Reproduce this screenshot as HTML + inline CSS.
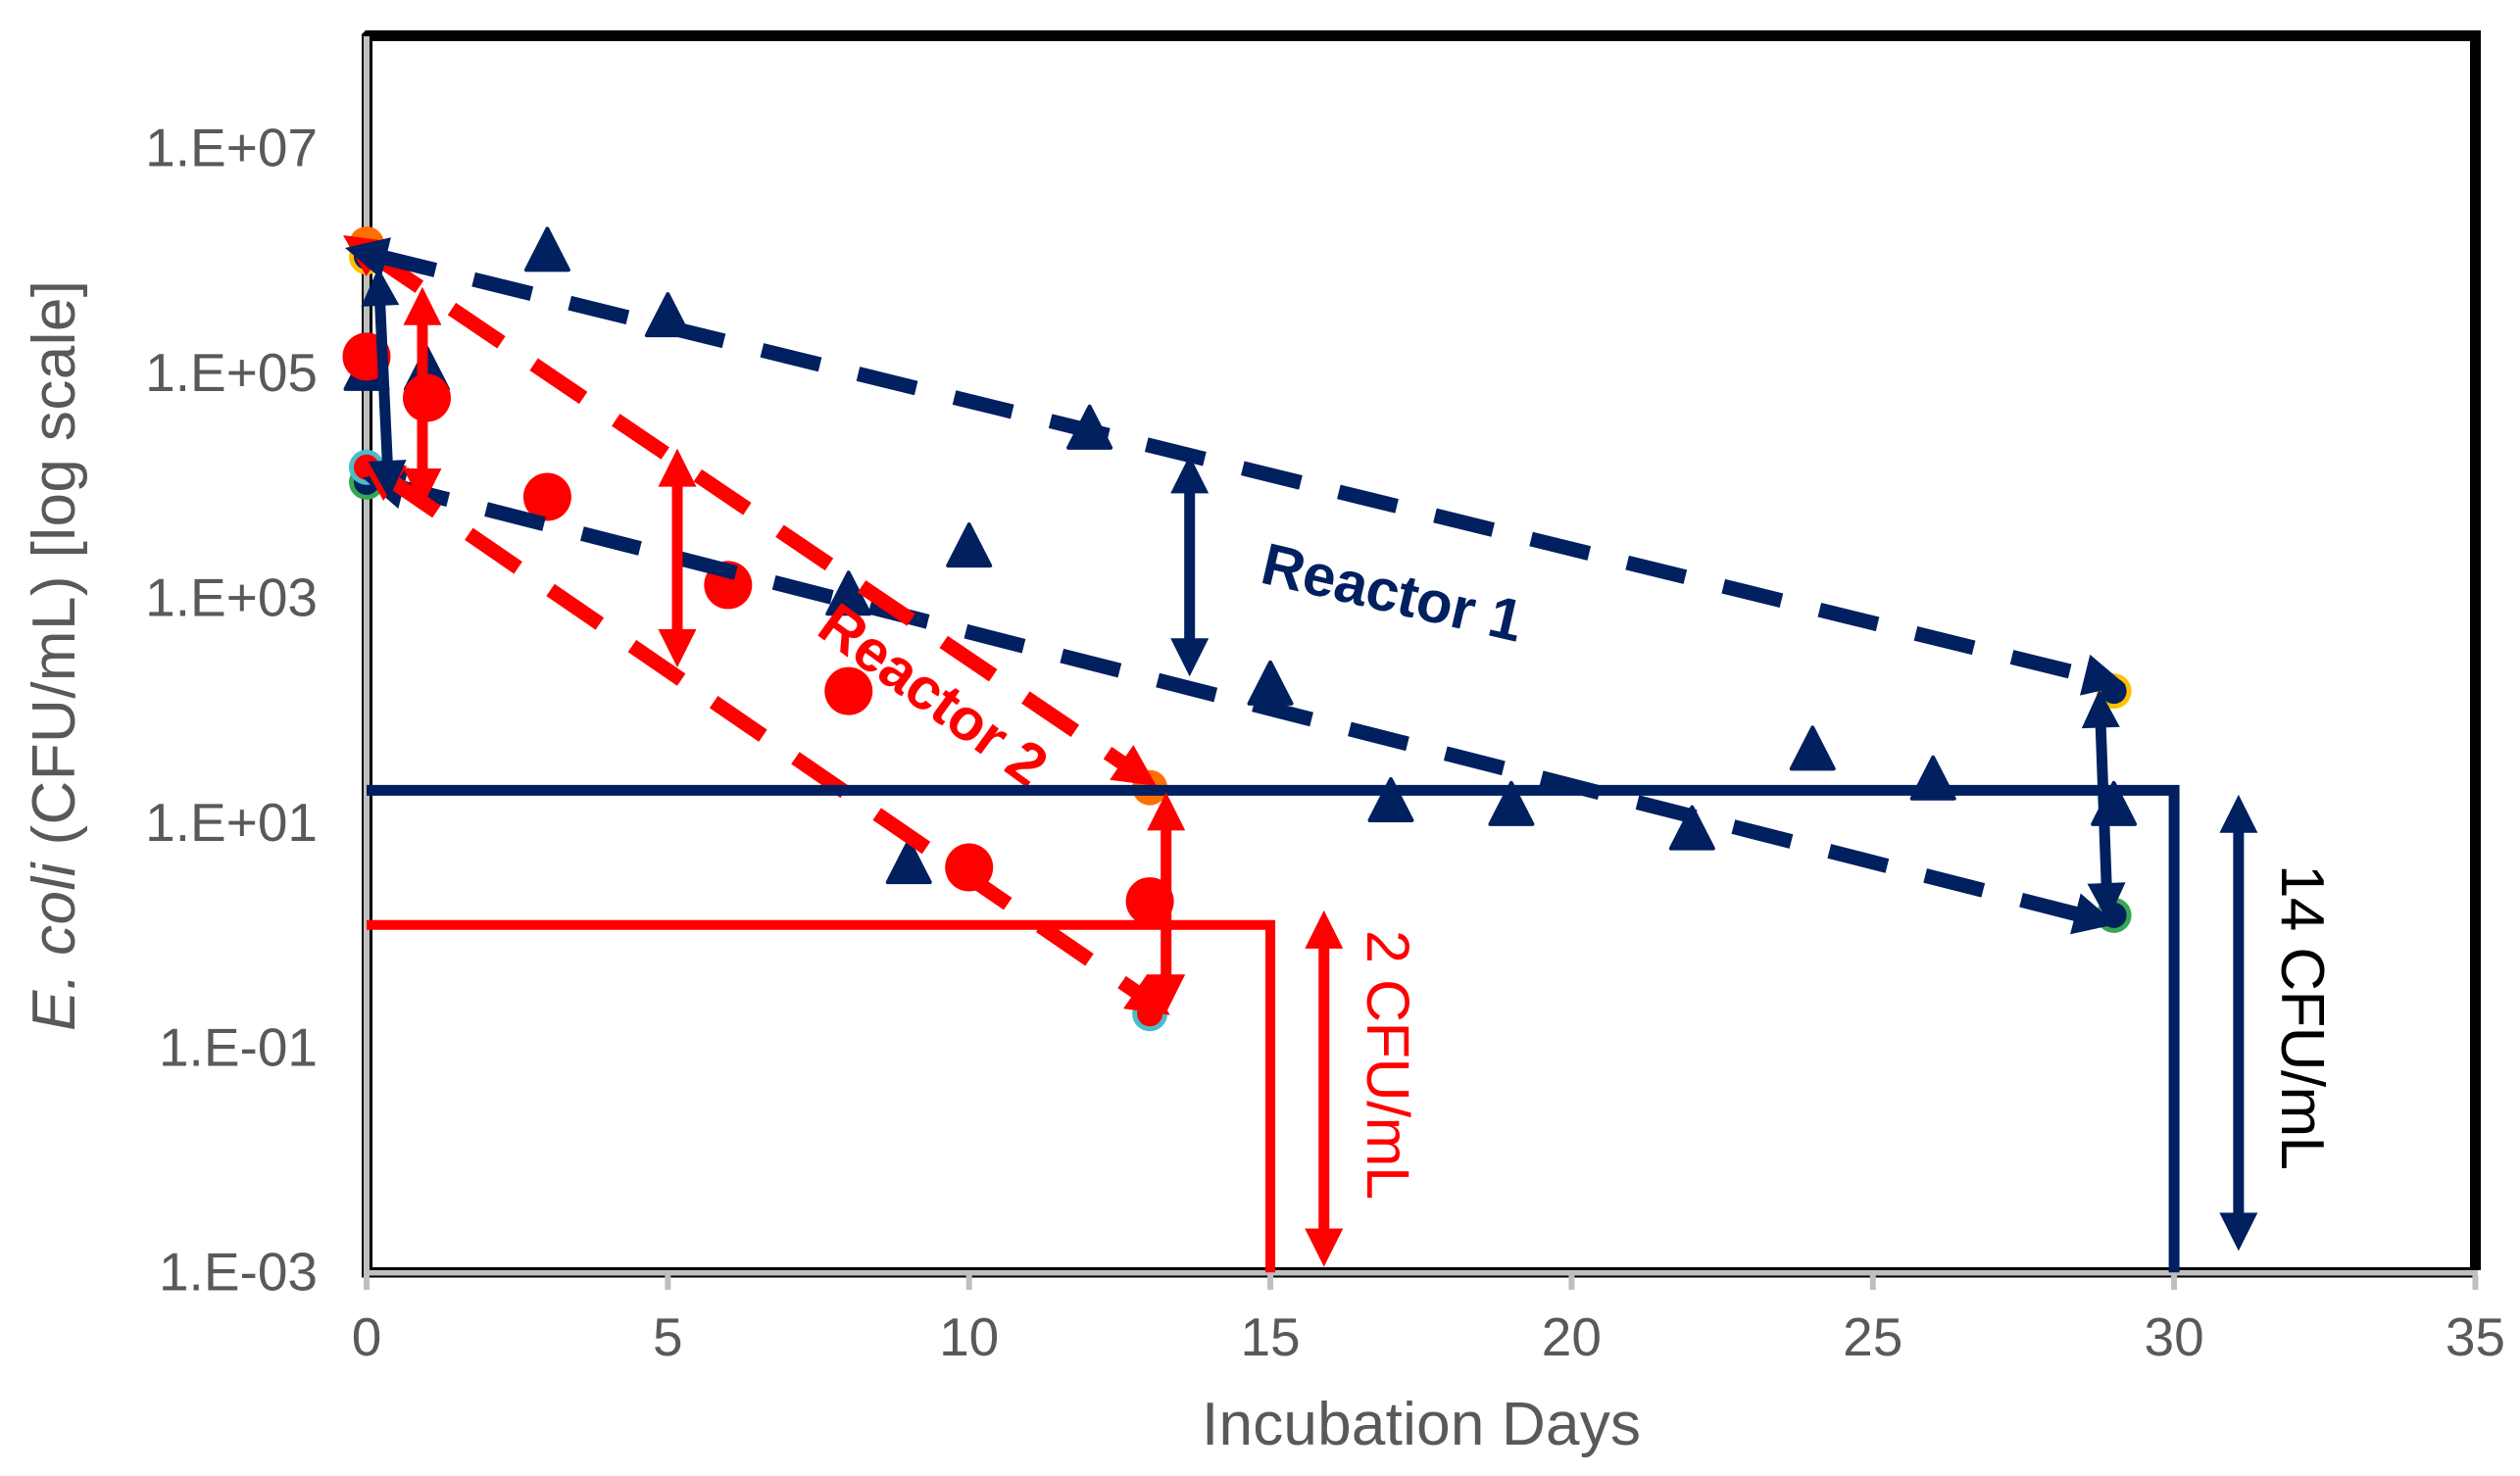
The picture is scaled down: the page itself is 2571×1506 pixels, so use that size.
<!DOCTYPE html>
<html lang="en">
<head>
<meta charset="utf-8">
<title>E. coli decay in reactors</title>
<style>
html,body{margin:0;padding:0;background:#fff;}
svg{display:block;}
text{font-family:"Liberation Sans",sans-serif;}
</style>
</head>
<body>
<svg id="chart" xmlns="http://www.w3.org/2000/svg" width="2571" height="1506" viewBox="0 0 2571 1506">
  <rect x="0" y="0" width="2571" height="1506" fill="#fff"/>
  <g id="frame">
    <path d="M373 31H2531V42H369V35Z" fill="#000"/>
    <rect x="2520" y="31" width="11" height="1265" fill="#000"/>
    <rect x="369" y="37" width="11" height="1266" fill="#000"/>
    <rect x="369" y="1293" width="2159" height="10.5" fill="#000"/>
    <rect x="371" y="37" width="6" height="1279" fill="#bfbfbf"/>
    <rect x="371" y="1296" width="2157" height="5.5" fill="#bfbfbf"/>
  </g>
  <g id="xticks"></g>
  <g id="ylabels"></g>
  <g id="xlabels"></g>
  <text x="1450" y="1474" text-anchor="middle" font-size="62" fill="#595959" textLength="448" lengthAdjust="spacing">Incubation Days</text>
  <text transform="translate(76,1052) rotate(-90)" font-size="62" fill="#595959" textLength="766" lengthAdjust="spacing"><tspan font-style="italic">E. coli</tspan> (CFU/mL) [log scale]</text>
  <g id="marks"></g>
  <g id="overlay"></g>
</svg>
<script>
// Axis configuration
const xTickValues = [0, 5, 10, 15, 20, 25, 30, 35];
const yTickExponents = [7, 5, 3, 1, -1, -3];
const yTickLabels = ['1.E+07', '1.E+05', '1.E+03', '1.E+01', '1.E-01', '1.E-03'];

// Measured series (day, CFU/mL)
const reactor1Days = [0, 1, 3, 5, 8, 9, 10, 12, 15, 17, 19, 22, 24, 26, 29];
const reactor1Cfu = [1.1e5, 1.1e5, 1.26e6, 3.3e5, 1.1e3, 4.5, 2.95e3, 3.3e4, 175, 16, 14.8, 9, 46, 25, 14.8];
const reactor2Days = [0, 1, 3, 6, 8, 10, 13];
const reactor2Cfu = [1.4e5, 6e4, 7.9e3, 1.3e3, 148, 4, 2];

// Trend-end markers: plain, ringed navy, ringed red
const orangeDays = [0, 13];
const orangeCfu = [1.4e6, 20.5];
const yellowDays = [0, 29];
const yellowCfu = [1.08e6, 148];
const greenDays = [0, 29];
const greenCfu = [1.07e4, 1.5];
const tealDays = [0, 13];
const tealCfu = [1.45e4, 0.2];

// Detection limit steps
const limitNavyDay = 30;
const limitNavyCfu = 19.4;
const limitRedDay = 15;
const limitRedCfu = 1.23;

// Annotation arrows as [day, log10 CFU] start and end
const dashNavyUpper = [[-0.358, 6.113], [29.2, 2.224]];
const dashNavyLower = [[-0.065, 4.068], [29.04, 0.097]];
const dashRedUpper = [[-0.39, 6.226], [13.11, 1.326]];
const dashRedLower = [[-0.1, 4.23], [13.335, -0.712]];
const spanNavyDay0 = [[0.195, 5.938], [0.374, 3.881]];
const spanRedDay1 = [[0.927, 5.766], [0.927, 3.811]];
const spanRedDay5 = [[5.157, 4.329], [5.157, 2.381]];
const spanNavyDay13 = [[13.66, 4.27], [13.66, 2.3]];
const spanRedDay13 = [[13.27, 1.27], [13.27, -0.69]];
const spanNavyDay29 = [[28.76, 2.185], [28.9, 0.123]];
const spanRedLimit = [[15.89, 0.22], [15.89, -2.95]];
const spanNavyLimit = [[31.07, 1.25], [31.07, -2.81]];

const NS = 'http://www.w3.org/2000/svg';
const NAVY = '#002060';
const RED = '#ff0000';
const X0 = 374, XPER = 61.47, YTOP = 36.5, YDEC = 114.7;
function xScale(d) { return X0 + d * XPER; }
function yLog(l) { return YTOP + (8 - l) * YDEC; }
function yScale(v) { return yLog(Math.log10(v)); }
function mk(tag, attrs, parent) {
  const el = document.createElementNS(NS, tag);
  for (const k in attrs) el.setAttribute(k, attrs[k]);
  parent.appendChild(el);
  return el;
}
const marks = document.getElementById('marks');
const overlay = document.getElementById('overlay');
const xticks = document.getElementById('xticks');
const xlabels = document.getElementById('xlabels');
const ylabels = document.getElementById('ylabels');

xTickValues.forEach(function (t) {
  const tick = mk('rect', { x: xScale(t) - 3, y: 1301, width: 6, height: 15, fill: '#bfbfbf' }, xticks);
  
  
  const lab = mk('text', { x: xScale(t), y: 1383, 'text-anchor': 'middle', 'font-size': 55, fill: '#595959' }, xlabels);
  lab.textContent = String(t);
  
  
});
yTickExponents.forEach(function (e, i) {
  const lab = mk('text', { x: 324, y: yLog(e) + 18.5, 'text-anchor': 'end', 'font-size': 55, fill: '#595959' }, ylabels);
  lab.textContent = yTickLabels[i];
  
  
});

function dot(parent, d, v, r, fill) {
  return mk('circle', { cx: xScale(d), cy: yScale(v), r: r, fill: fill }, parent);
}
function tri(parent, d, v) {
  const x = xScale(d), y = yScale(v);
  const pts = x + ',' + (y - 21) + ' ' + (x + 21.5) + ',' + (y + 21) + ' ' + (x - 21.5) + ',' + (y + 21);
  return mk('polygon', { points: pts, fill: NAVY, stroke: NAVY, 'stroke-width': 4, 'stroke-linejoin': 'round' }, parent);
}
function head(parent, tipX, tipY, ux, uy, size, color) {
  const bx = tipX - ux * size, by = tipY - uy * size, nx = -uy, ny = ux, h = size / 2;
  const pts = tipX + ',' + tipY + ' ' + (bx + nx * h) + ',' + (by + ny * h) + ' ' + (bx - nx * h) + ',' + (by - ny * h);
  return mk('polygon', { points: pts, fill: color }, parent);
}
function arrow(parent, ends, color, width, size, name, phase) {
  const g = mk('g', {}, parent);
  
  
  const x1 = xScale(ends[0][0]), y1 = yLog(ends[0][1]), x2 = xScale(ends[1][0]), y2 = yLog(ends[1][1]);
  const len = Math.hypot(x2 - x1, y2 - y1), ux = (x2 - x1) / len, uy = (y2 - y1) / len;
  const line = { stroke: color, 'stroke-width': width };
  if (phase === undefined) {
    line.x1 = x1 + ux * size * 0.8; line.y1 = y1 + uy * size * 0.8;
    line.x2 = x2 - ux * size * 0.8; line.y2 = y2 - uy * size * 0.8;
  } else {
    line.x1 = x1; line.y1 = y1;
    line.x2 = x2 - ux * size * 0.8; line.y2 = y2 - uy * size * 0.8;
    line['stroke-dasharray'] = '61 40';
    line['stroke-dashoffset'] = 101 - phase;
  }
  mk('line', line, g);
  head(g, x1, y1, -ux, -uy, size, color);
  head(g, x2, y2, ux, uy, size, color);
  return g;
}

// Trend-end markers
orangeDays.forEach(function (d, i) {
  const c = dot(marks, d, orangeCfu[i], 18, '#ff6f00');
  
  
});
yellowDays.forEach(function (d, i) {
  const c = dot(marks, d, yellowCfu[i], 18, '#ffc000');
  
  
  const n = dot(marks, d, yellowCfu[i], 13, NAVY);
  
  
});
greenDays.forEach(function (d, i) {
  const c = dot(marks, d, greenCfu[i], 18, '#36a852');
  
  
  const n = dot(marks, d, greenCfu[i], 13, NAVY);
  
  
});
tealDays.forEach(function (d, i) {
  const c = dot(marks, d, tealCfu[i], 18, '#4abdc8');
  
  
  const n = dot(marks, d, tealCfu[i], 13, RED);
  
  
});

// Reactor 1 triangles and Reactor 2 circles
reactor1Days.forEach(function (d, i) {
  const t = tri(marks, d, reactor1Cfu[i]);
  
  
});
reactor2Days.forEach(function (d, i) {
  const c = dot(marks, d, reactor2Cfu[i], 24.5, RED);
  
  
});

// Trend arrows and span arrows
arrow(marks, dashNavyLower, NAVY, 15, 43, 'reactor-1-lower-trend-arrow', 29);
arrow(marks, dashRedLower, RED, 15, 43, 'reactor-2-lower-trend-arrow', 33);
arrow(marks, dashRedUpper, RED, 15, 43, 'reactor-2-upper-trend-arrow', 33);
arrow(marks, dashNavyUpper, NAVY, 15, 43, 'reactor-1-upper-trend-arrow', 34);
arrow(marks, spanRedDay1, RED, 11, 39, 'reactor-2-day-1-span-arrow');
arrow(marks, spanNavyDay0, NAVY, 11, 39, 'reactor-1-day-0-span-arrow');
arrow(marks, spanRedDay5, RED, 11, 39, 'reactor-2-day-5-span-arrow');
arrow(marks, spanNavyDay13, NAVY, 11, 39, 'reactor-1-day-13-span-arrow');
arrow(marks, spanNavyDay29, NAVY, 11, 39, 'reactor-1-day-29-span-arrow');
arrow(marks, spanRedLimit, RED, 11, 39, 'red-limit-span-arrow');
arrow(marks, spanNavyLimit, NAVY, 11, 39, 'navy-limit-span-arrow');

// Text annotations
const r1 = mk('text', { transform: 'translate(1284,594) rotate(13)', 'font-size': 60, 'font-weight': 'bold', fill: NAVY, textLength: 271 }, marks);
r1.textContent = 'Reactor 1';


const r2 = mk('text', { transform: 'translate(831,646) rotate(36)', 'font-size': 60, 'font-weight': 'bold', fill: RED, textLength: 270 }, marks);
r2.textContent = 'Reactor 2';


const t14 = mk('text', { transform: 'translate(2328,882) rotate(90)', 'font-size': 62, fill: '#000', textLength: 312 }, marks);
t14.textContent = '14 CFU/mL';


const t2 = mk('text', { transform: 'translate(1395,949) rotate(90)', 'font-size': 61, fill: RED, textLength: 275 }, marks);
t2.textContent = '2 CFU/mL';



// Detection limit step lines
const yBottom = yLog(-3);
const stepRed = mk('path', { d: 'M' + xScale(0) + ' ' + yScale(limitRedCfu) + 'H' + xScale(limitRedDay) + 'V' + yBottom, fill: 'none', stroke: RED, 'stroke-width': 10 }, overlay);


const stepNavy = mk('path', { d: 'M' + xScale(0) + ' ' + yScale(limitNavyCfu) + 'H' + xScale(limitNavyDay) + 'V' + yBottom, fill: 'none', stroke: NAVY, 'stroke-width': 11 }, overlay);


arrow(overlay, spanRedDay13, RED, 11, 39, 'reactor-2-day-13-span-arrow');
</script>
</body>
</html>
